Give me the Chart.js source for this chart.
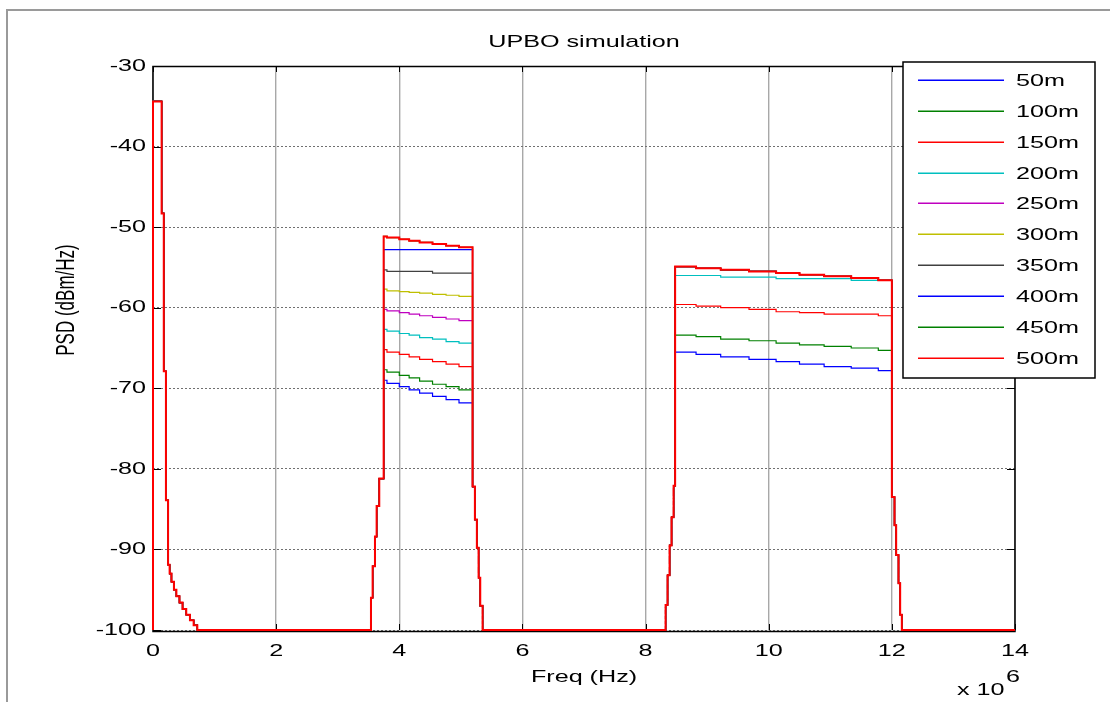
<!DOCTYPE html>
<html>
<head>
<meta charset="utf-8">
<title>UPBO simulation</title>
<script src="https://cdn.jsdelivr.net/npm/chart.js@4.4.1/dist/chart.umd.min.js"></script>
<style>
  html, body { margin: 0; padding: 0; background: #fff; }
  canvas { display: block; }
</style>
</head>
<body>
<canvas id="psdChart" width="1110" height="702"></canvas>
<script>
// loop lengths and their (MATLAB default) line colours
const loopNames = ["50m", "100m", "150m", "200m", "250m", "300m", "350m", "400m", "450m", "500m"];
const loopColors = ["#0000ff", "#008000", "#ff0000", "#00bfbf", "#bf00bf", "#bfbf00", "#404040", "#0000ff", "#008000", "#ff0000"];

// frequencies in MHz (axis shows x 10^6), PSD in dBm/Hz
// band below 1 MHz, same for every loop
const lowFreq = [0, 0, 0.14, 0.175, 0.21, 0.245, 0.27, 0.30, 0.34, 0.38, 0.43, 0.48, 0.54, 0.60, 0.66, 0.72];
const lowPsd = [-100, -34.4, -48.3, -67.9, -83.9, -91.9, -93.0, -94.0, -95.0, -95.8, -96.6, -97.4, -98.1, -98.8, -99.4, -100];

// US1 band edges
const us1RiseFreq = [3.54, 3.567, 3.605, 3.632, 3.675];
const us1RisePsd = [-96.0, -92.1, -88.4, -84.6, -81.2];
const us1StepFreq = [3.746, 3.80, 4.00, 4.16, 4.33, 4.54, 4.76, 4.97];
const us1FallFreq = [5.19, 5.228, 5.26, 5.288, 5.315, 5.353];
const us1FallPsd = [-82.2, -86.3, -89.8, -93.5, -97.0, -100];

// US2 band edges
const us2RiseFreq = [8.325, 8.357, 8.39, 8.422, 8.455];
const us2RisePsd = [-96.9, -93.2, -89.5, -86.0, -82.1];
const us2StepFreq = [8.48, 8.82, 9.22, 9.68, 10.12, 10.5, 10.9, 11.34, 11.78];
const us2FallFreq = [12.0, 12.043, 12.07, 12.108, 12.135, 12.162, 14];
const us2FallPsd = [-83.5, -87.0, -90.7, -94.2, -98.1, -100, -100];

// in-band PSD per loop (one row per loop length, same order as loopNames)
const us1Levels = [
  [-69.0, -69.4, -69.8, -70.2, -70.6, -71.0, -71.4, -71.8],
  [-67.7, -68.0, -68.4, -68.7, -69.1, -69.5, -69.8, -70.2],
  [-65.2, -65.5, -65.8, -66.1, -66.4, -66.7, -67.0, -67.3],
  [-62.7, -62.9, -63.2, -63.4, -63.7, -63.9, -64.2, -64.4],
  [-60.2, -60.4, -60.6, -60.8, -61.0, -61.2, -61.4, -61.6],
  [-57.7, -57.9, -58.0, -58.1, -58.2, -58.35, -58.45, -58.6],
  [-55.3, -55.5, -55.5, -55.5, -55.5, -55.7, -55.7, -55.7],
  [-52.8, -52.8, -52.8, -52.8, -52.8, -52.8, -52.8, -52.8],
  [-51.15, -51.3, -51.5, -51.7, -51.9, -52.1, -52.3, -52.5],
  [-51.15, -51.3, -51.5, -51.7, -51.9, -52.1, -52.3, -52.5]
];
const us2Levels = [
  [-65.5, -65.8, -66.1, -66.4, -66.7, -67.0, -67.3, -67.5, -67.8],
  [-63.4, -63.6, -63.9, -64.1, -64.4, -64.6, -64.8, -65.0, -65.3],
  [-59.6, -59.8, -60.0, -60.2, -60.5, -60.6, -60.8, -60.8, -61.0],
  [-56.0, -56.0, -56.2, -56.2, -56.4, -56.4, -56.4, -56.6, -56.6],
  [-54.9, -55.1, -55.3, -55.5, -55.7, -55.9, -56.1, -56.3, -56.6],
  [-54.9, -55.1, -55.3, -55.5, -55.7, -55.9, -56.1, -56.3, -56.6],
  [-54.9, -55.1, -55.3, -55.5, -55.7, -55.9, -56.1, -56.3, -56.6],
  [-54.9, -55.1, -55.3, -55.5, -55.7, -55.9, -56.1, -56.3, -56.6],
  [-54.9, -55.1, -55.3, -55.5, -55.7, -55.9, -56.1, -56.3, -56.6],
  [-54.9, -55.1, -55.3, -55.5, -55.7, -55.9, -56.1, -56.3, -56.6]
];

const xTickValues = [0, 2, 4, 6, 8, 10, 12, 14];
const yTickValues = [-100, -90, -80, -70, -60, -50, -40, -30];

const FONT = '17px "Liberation Sans", Arial, sans-serif';
const X_STRETCH = 1.48; // the reference figure is stretched sideways

function pairs(xs, ys) {
  return xs.map((x, i) => ({ x: x, y: ys[i] }));
}

function buildLoop(i) {
  return [].concat(
    pairs(lowFreq, lowPsd),
    pairs(us1RiseFreq, us1RisePsd),
    pairs(us1StepFreq, us1Levels[i]),
    pairs(us1FallFreq, us1FallPsd),
    pairs(us2RiseFreq, us2RisePsd),
    pairs(us2StepFreq, us2Levels[i]),
    pairs(us2FallFreq, us2FallPsd)
  );
}

function stretchedText(ctx, text, x, y, align, rotated) {
  ctx.save();
  ctx.translate(x, y);
  ctx.scale(X_STRETCH, 1);
  if (rotated) ctx.rotate(-Math.PI / 2);
  ctx.font = FONT;
  ctx.fillStyle = "#000";
  ctx.textAlign = align;
  ctx.textBaseline = "middle";
  ctx.fillText(text, 0, 0);
  ctx.restore();
}

const matlabLook = {
  id: "matlabLook",
  beforeDraw(chart) {
    const ctx = chart.ctx;
    // grey figure frame
    ctx.save();
    ctx.strokeStyle = "#9a9a9a";
    ctx.lineWidth = 2;
    ctx.beginPath();
    ctx.moveTo(7, 702);
    ctx.lineTo(7, 10);
    ctx.lineTo(1110, 10);
    ctx.stroke();
    ctx.restore();
  },
  beforeDatasetsDraw(chart) {
    const ctx = chart.ctx;
    const a = chart.chartArea;
    const xs = chart.scales.x, ys = chart.scales.y;
    ctx.save();
    ctx.strokeStyle = "#000";
    ctx.lineWidth = 1;
    // inward ticks on all four sides
    ctx.beginPath();
    xs.ticks.forEach(t => {
      const px = Math.round(xs.getPixelForValue(t.value)) + 0.5;
      ctx.moveTo(px, a.bottom); ctx.lineTo(px, a.bottom - 6);
      ctx.moveTo(px, a.top); ctx.lineTo(px, a.top + 6);
    });
    ys.ticks.forEach(t => {
      const py = Math.round(ys.getPixelForValue(t.value)) + 0.5;
      ctx.moveTo(a.left, py); ctx.lineTo(a.left + 8, py);
      ctx.moveTo(a.right, py); ctx.lineTo(a.right - 8, py);
    });
    ctx.stroke();
    // axes box
    ctx.lineWidth = 1.5;
    ctx.strokeRect(a.left, a.top + 0.5, a.right - a.left, a.bottom - a.top + 1);
    ctx.restore();
  },
  afterDraw(chart) {
    const ctx = chart.ctx;
    const a = chart.chartArea;
    const xs = chart.scales.x, ys = chart.scales.y;

    xs.ticks.forEach(t => stretchedText(ctx, String(t.value), xs.getPixelForValue(t.value), a.bottom + 21, "center"));
    ys.ticks.forEach(t => stretchedText(ctx, String(t.value), a.left - 7, ys.getPixelForValue(t.value), "right"));

    stretchedText(ctx, "UPBO simulation", (a.left + a.right) / 2, 42, "center");
    stretchedText(ctx, "Freq (Hz)", (a.left + a.right) / 2, 677, "center");
    stretchedText(ctx, "PSD (dBm/Hz)", 67, 300, "center", true);
    stretchedText(ctx, "x 10", 957, 690, "left");
    stretchedText(ctx, "6", 1006, 677, "left");

    // legend box, drawn over the plot like MATLAB's legend
    const box = { left: 903, top: 62, right: 1095, bottom: 378 };
    ctx.save();
    ctx.fillStyle = "#fff";
    ctx.fillRect(box.left, box.top, box.right - box.left, box.bottom - box.top);
    ctx.strokeStyle = "#000";
    ctx.lineWidth = 1.5;
    ctx.strokeRect(box.left, box.top, box.right - box.left, box.bottom - box.top);
    chart.data.datasets.forEach((ds, i) => {
      const y = Math.round(80 + i * 30.85) + 0.2;
      ctx.strokeStyle = ds.borderColor;
      ctx.lineWidth = 1.4;
      ctx.beginPath();
      ctx.moveTo(918, y);
      ctx.lineTo(1004, y);
      ctx.stroke();
      stretchedText(ctx, ds.label, 1016, y + 1, "left");
    });
    ctx.restore();
  }
};

const datasets = loopNames.map((name, i) => ({
  label: name,
  data: buildLoop(i),
  borderColor: loopColors[i],
  borderWidth: i === loopNames.length - 1 ? 2 : 1.2,
  pointRadius: 0,
  fill: false,
  stepped: true,
  clip: false,
  order: loopNames.length - i // later loops drawn on top, like MATLAB
}));

new Chart(document.getElementById("psdChart"), {
  type: "line",
  data: { datasets: datasets },
  plugins: [matlabLook],
  options: {
    responsive: false,
    animation: false,
    devicePixelRatio: 1,
    layout: { padding: { left: 0, top: 66, right: 95, bottom: 0 } },
    plugins: { legend: { display: false }, tooltip: { enabled: false } },
    scales: {
      x: {
        type: "linear",
        min: 0,
        max: 14,
        afterFit: s => { s.height = 72; },
        afterBuildTicks: s => { s.ticks = xTickValues.map(v => ({ value: v })); },
        ticks: { display: false },
        grid: { color: "#a8a8a8", lineWidth: 1.4, drawTicks: false },
        border: { display: false }
      },
      y: {
        type: "linear",
        min: -100,
        max: -30,
        afterFit: s => { s.width = 153; },
        afterBuildTicks: s => { s.ticks = yTickValues.map(v => ({ value: v })); },
        ticks: { display: false },
        grid: { color: "#707070", lineWidth: 1, drawTicks: false },
        border: { display: false, dash: [2, 2] }
      }
    }
  }
});
</script>
</body>
</html>
